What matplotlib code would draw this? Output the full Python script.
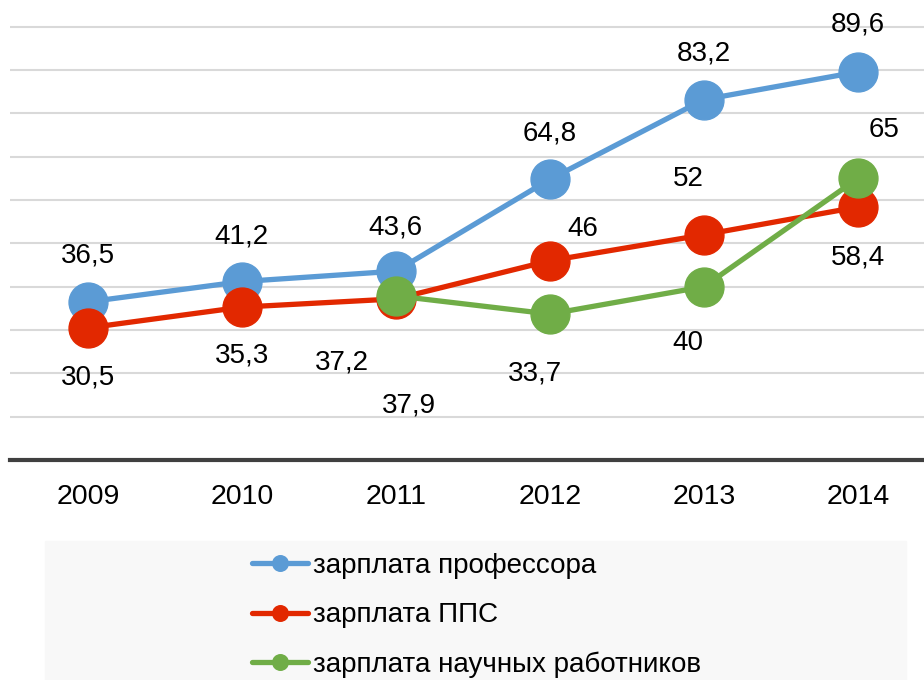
import matplotlib.pyplot as plt
from matplotlib.patches import Rectangle

plt.rcParams['font.family'] = ['Liberation Sans', 'DejaVu Sans']

# data
years = ["2009", "2010", "2011", "2012", "2013", "2014"]
prof = [36.5, 41.2, 43.6, 64.8, 83.2, 89.6]
pps = [30.5, 35.3, 37.2, 46, 52, 58.4]
sci_years = ["2011", "2012", "2013", "2014"]
sci = [37.9, 33.7, 40, 65]
names = ["зарплата профессора", "зарплата ППС", "зарплата научных работников"]

# label offsets in pixels (dx, dy), picked by eye
prof_off = [(0, 46), (0, 45), (0, 44), (0, 46), (0, 46), (0, 47)]
pps_off = [(0, -50), (0, -48), (-54, -64), (33, 32), (-16, 56), (0, -50)]
sci_off = [(13, -110), (-15, -59), (-16, -56), (26, 48)]

colors = ["#5b9bd5", "#e22800", "#70ad47"]

fig = plt.figure(figsize=(9.24, 6.8), dpi=100)
ax = fig.add_axes([10 / 924, 220 / 680, 914 / 924, 460 / 680])

x = list(range(len(years)))
xs = [years.index(y) for y in sci_years]

series = [(x, prof, prof_off), (x, pps, pps_off), (xs, sci, sci_off)]
for (xx, vals, offs), c, name in zip(series, colors, names):
    ax.plot(xx, vals, color=c, lw=3.8, marker="o", ms=28, label=name,
            solid_capstyle="round")
    for xi, v, (dx, dy) in zip(xx, vals, offs):
        ax.annotate(str(v).replace(".", ","), (xi, v), xytext=(dx, dy),
                    textcoords="offset pixels", ha="center", va="center",
                    fontsize=20)

ax.set_xlim(-0.506, 5.43)
ax.set_ylim(0, 106.2)
ax.set_xticks(x)
ax.set_xticklabels(years, fontsize=20.5)
ax.set_yticks(range(10, 101, 10))
ax.set_yticklabels([])
ax.tick_params(length=0)
ax.tick_params(axis="x", pad=17)
ax.grid(axis="y", color="#d9d9d9", lw=1.5)
ax.set_axisbelow(True)
for s in ["top", "right", "left"]:
    ax.spines[s].set_visible(False)
ax.spines["bottom"].set_color("#404040")
ax.spines["bottom"].set_linewidth(3)

# legend background
fig.patches.append(Rectangle((45 / 924, 0), 861 / 924, 139 / 680,
                             transform=fig.transFigure, color="#f8f8f8",
                             zorder=0))
h, l = ax.get_legend_handles_labels()
leg = fig.legend(h, l, loc="upper left", bbox_to_anchor=(252 / 924, 1 - 553 / 680),
                 frameon=False, fontsize=20, handlelength=2.0, handletextpad=0.2,
                 labelspacing=0.84, borderpad=0, borderaxespad=0, markerscale=0.4)

plt.savefig("out.png", dpi=100)
